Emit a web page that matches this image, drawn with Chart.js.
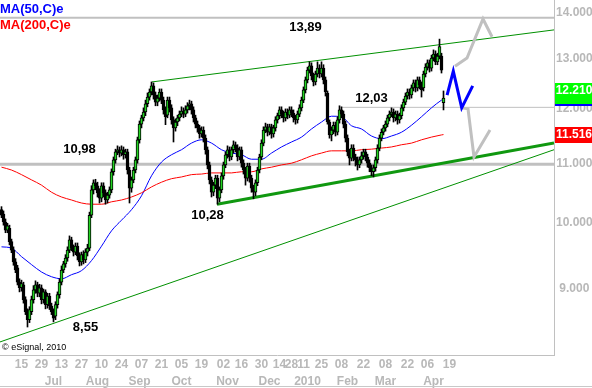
<!DOCTYPE html>
<html>
<head>
<meta charset="utf-8">
<script src="https://cdn.jsdelivr.net/npm/chart.js@4.4.1/dist/chart.umd.min.js"></script>
<style>
  html, body { margin: 0; padding: 0; background: #fff; }
</style>
</head>
<body>
<canvas id="chart" width="592" height="388"></canvas>
<script>
// daily candles, one per trading day (index 0 = first bar on the left)
const dayOpen = [
  10.21,10.14,10.01,9.88,9.91,9.70,9.57,9.39,9.30,9.09,
  9.01,9.05,8.84,8.67,8.56,8.67,8.84,8.98,9.05,8.93,
  9.01,8.84,8.95,8.77,8.89,8.75,8.67,8.61,8.77,8.91,
  9.09,9.27,9.36,9.45,9.57,9.73,9.60,9.54,9.63,9.48,
  9.39,9.50,9.42,9.54,9.60,10.12,10.54,10.66,10.61,10.49,
  10.40,10.61,10.49,10.37,10.45,10.54,10.85,11.06,11.20,11.24,
  11.18,11.24,11.15,11.20,10.88,10.57,10.71,10.88,11.06,11.42,
  11.71,11.83,11.94,12.10,12.23,12.33,12.45,12.27,12.13,12.21,
  12.33,12.17,11.98,11.88,12.17,12.02,11.79,11.64,11.75,11.83,
  11.90,11.96,11.90,11.98,12.06,12.10,11.98,11.83,11.71,11.64,
  11.53,11.60,11.45,11.24,10.97,10.71,10.50,10.62,10.74,10.40,
  10.54,10.78,10.97,11.15,11.24,11.11,11.24,11.33,11.27,11.11,
  11.24,11.00,10.88,10.74,10.95,10.74,10.57,10.50,10.66,10.88,
  11.11,11.36,11.60,11.66,11.56,11.66,11.53,11.64,11.79,11.87,
  11.98,11.90,11.83,11.94,11.88,11.98,11.92,11.83,11.79,11.90,
  12.02,12.17,12.37,12.57,12.77,12.86,12.65,12.53,12.69,12.81,
  12.69,12.81,12.57,12.31,11.75,11.51,11.60,11.69,11.56,11.79,
  11.98,11.90,11.71,11.45,11.20,11.09,11.27,11.11,11.06,10.97,
  11.06,11.13,11.20,11.11,11.00,10.92,10.85,10.92,11.06,11.27,
  11.45,11.56,11.64,11.71,11.83,11.90,11.94,11.83,11.90,11.79,
  11.87,12.02,12.13,12.25,12.33,12.27,12.41,12.51,12.41,12.57,
  12.47,12.41,12.69,12.83,12.92,12.81,13.02,13.10,12.94,13.06,
  13.06,12.12
];
const dayHigh = [
  10.26,10.19,10.06,9.99,9.96,9.74,9.62,9.44,9.34,9.14,
  9.12,9.09,8.88,8.71,8.74,8.89,9.04,9.11,9.09,9.06,
  9.05,8.99,8.98,8.93,8.93,8.79,8.71,8.81,8.95,9.14,
  9.33,9.40,9.50,9.62,9.79,9.77,9.65,9.68,9.68,9.53,
  9.54,9.56,9.59,9.66,10.17,10.61,10.71,10.72,10.67,10.56,
  10.66,10.66,10.54,10.50,10.59,10.90,11.11,11.25,11.31,11.29,
  11.31,11.29,11.25,11.25,10.93,10.76,10.93,11.11,11.47,11.77,
  11.88,12.02,12.17,12.31,12.39,12.53,12.51,12.33,12.27,12.39,
  12.39,12.23,12.04,12.23,12.23,12.08,11.85,11.81,11.88,11.96,
  12.04,12.02,12.06,12.12,12.17,12.15,12.04,11.88,11.77,11.69,
  11.66,11.66,11.51,11.29,11.02,10.76,10.67,10.79,10.79,10.59,
  10.83,11.02,11.20,11.31,11.29,11.29,11.40,11.38,11.33,11.29,
  11.29,11.06,10.93,11.00,11.00,10.79,10.62,10.71,10.93,11.16,
  11.42,11.66,11.73,11.71,11.71,11.71,11.69,11.85,11.92,12.04,
  12.04,11.96,12.00,12.00,12.04,12.04,11.98,11.88,11.96,12.08,
  12.23,12.43,12.63,12.83,12.94,12.92,12.71,12.75,12.94,12.88,
  12.94,12.88,12.63,12.35,11.79,11.66,11.75,11.75,11.85,12.06,
  12.04,11.96,11.77,11.51,11.25,11.33,11.33,11.16,11.11,11.11,
  11.20,11.25,11.25,11.16,11.06,10.97,10.97,11.11,11.33,11.51,
  11.62,11.69,11.77,11.88,11.96,12.02,12.00,11.96,11.96,11.92,
  12.08,12.19,12.31,12.39,12.39,12.47,12.57,12.57,12.63,12.63,
  12.53,12.75,12.90,12.98,12.98,13.08,13.19,13.17,13.12,13.42,
  13.12,12.35
];
const dayLow = [
  10.08,9.96,9.84,9.84,9.65,9.53,9.34,9.23,9.05,8.95,
  8.96,8.79,8.63,8.46,8.52,8.63,8.79,8.93,8.88,8.88,
  8.78,8.79,8.71,8.72,8.70,8.63,8.53,8.56,8.72,8.86,
  9.05,9.23,9.31,9.40,9.53,9.56,9.48,9.50,9.42,9.33,
  9.34,9.36,9.38,9.48,9.56,10.08,10.47,10.54,10.42,10.32,
  10.34,10.42,10.30,10.32,10.40,10.49,10.79,11.00,11.15,11.11,
  11.13,11.07,11.09,10.81,10.32,10.50,10.66,10.83,11.00,11.36,
  11.64,11.77,11.87,12.04,12.17,12.27,12.19,12.06,12.06,12.15,
  12.10,11.90,11.70,11.83,11.94,11.71,11.38,11.58,11.68,11.77,
  11.85,11.83,11.85,11.92,11.98,11.90,11.75,11.64,11.56,11.45,
  11.47,11.38,11.16,10.90,10.64,10.42,10.44,10.56,10.30,10.34,
  10.49,10.72,10.92,11.09,11.04,11.06,11.18,11.20,11.04,11.06,
  10.93,10.81,10.62,10.69,10.67,10.50,10.39,10.44,10.61,10.83,
  11.06,11.31,11.55,11.49,11.51,11.45,11.47,11.58,11.73,11.81,
  11.83,11.75,11.77,11.81,11.83,11.85,11.75,11.71,11.73,11.85,
  11.96,12.12,12.31,12.51,12.71,12.57,12.45,12.47,12.63,12.61,
  12.63,12.49,12.25,11.71,11.45,11.40,11.53,11.49,11.51,11.73,
  11.83,11.64,11.38,11.13,10.97,11.04,11.04,10.95,10.88,10.92,
  11.00,11.07,11.04,10.93,10.85,10.78,10.76,10.86,11.00,11.22,
  11.40,11.51,11.58,11.66,11.77,11.85,11.75,11.77,11.71,11.73,
  11.81,11.96,12.08,12.19,12.19,12.21,12.35,12.33,12.35,12.39,
  12.23,12.35,12.63,12.77,12.73,12.75,12.96,12.88,12.88,13.00,
  12.71,11.98
];
const dayClose = [
  10.12,10.01,9.88,9.95,9.70,9.57,9.39,9.27,9.09,9.01,
  9.07,8.84,8.67,8.56,8.70,8.84,8.98,9.05,8.93,9.01,
  8.84,8.95,8.77,8.89,8.75,8.67,8.58,8.77,8.91,9.09,
  9.27,9.36,9.45,9.57,9.73,9.60,9.54,9.63,9.48,9.39,
  9.50,9.42,9.54,9.60,10.12,10.54,10.66,10.61,10.49,10.40,
  10.61,10.49,10.37,10.45,10.54,10.85,11.06,11.20,11.24,11.18,
  11.24,11.15,11.20,10.88,10.57,10.71,10.88,11.06,11.42,11.71,
  11.83,11.94,12.10,12.23,12.33,12.45,12.27,12.13,12.21,12.33,
  12.17,11.98,11.85,12.17,12.02,11.79,11.64,11.75,11.83,11.90,
  11.96,11.90,11.98,12.06,12.10,11.98,11.83,11.71,11.64,11.53,
  11.60,11.45,11.24,10.97,10.71,10.50,10.62,10.74,10.40,10.54,
  10.78,10.97,11.15,11.24,11.11,11.24,11.33,11.27,11.11,11.24,
  11.00,10.88,10.74,10.95,10.74,10.57,10.50,10.66,10.88,11.11,
  11.36,11.60,11.66,11.56,11.66,11.53,11.64,11.79,11.87,11.98,
  11.90,11.83,11.94,11.88,11.98,11.92,11.83,11.79,11.90,12.02,
  12.17,12.37,12.57,12.77,12.86,12.65,12.53,12.69,12.81,12.69,
  12.81,12.57,12.33,11.75,11.51,11.60,11.69,11.56,11.79,11.98,
  11.90,11.71,11.45,11.20,11.09,11.27,11.11,11.06,10.97,11.06,
  11.13,11.20,11.11,11.00,10.92,10.85,10.92,11.06,11.27,11.45,
  11.56,11.64,11.71,11.83,11.90,11.94,11.83,11.90,11.79,11.87,
  12.02,12.13,12.25,12.33,12.27,12.41,12.51,12.41,12.57,12.47,
  12.37,12.69,12.83,12.92,12.81,13.02,13.10,12.94,13.06,13.26,
  12.77,12.21
];

// moving averages, read every 5th bar
const maDay = [0,5,10,15,20,25,30,35,40,45,50,55,60,65,70,75,80,85,90,95,
  100,105,110,115,120,125,130,135,140,145,150,155,160,165,170,175,180,185,190,195,
  200,205,210,215,220,221];
const ma50 = [
  9.62,9.60,9.47,9.35,9.24,9.17,9.14,9.20,9.26,9.41,
  9.63,9.87,10.04,10.21,10.44,10.78,11.02,11.15,11.24,11.36,
  11.42,11.36,11.24,11.18,11.15,11.07,11.07,11.18,11.29,11.38,
  11.47,11.62,11.75,11.86,11.85,11.68,11.62,11.49,11.44,11.49,
  11.56,11.69,11.85,12.02,12.17,12.19
];
const ma200 = [
  10.93,10.88,10.80,10.71,10.62,10.50,10.42,10.37,10.32,10.30,
  10.30,10.34,10.37,10.42,10.49,10.59,10.67,10.73,10.76,10.80,
  10.81,10.83,10.83,10.83,10.85,10.85,10.90,10.93,10.97,11.00,
  11.06,11.13,11.18,11.22,11.22,11.22,11.24,11.25,11.27,11.29,
  11.33,11.36,11.42,11.47,11.51,11.516
];

// axis ticks
const yTicks = [9, 10, 11, 12, 13, 14];
const dayTickIdx = [10,20,30,40,50,60,70,80,90,100,111,120,130,139,145,151,160,170,181,192,203,213,224];
const dayTickLabels = ['15','29','13','27','10','24','07','21','05','19','02','16','30','14','28','11','25','08','22','08','22','06','19'];
const monthTickIdx = [26, 48, 69, 90, 113, 134, 153, 173, 192, 216];
const monthLabels = ['Jul','Aug','Sep','Oct','Nov','Dec','2010','Feb','Mar','Apr'];

// drawn studies as [day, price]
const channelTop = [[75.25, 12.53], [276.25, 13.62]];
const supportLine = [[107.75, 10.30], [276.25, 11.36]];
const longSupport = [[-0.75, 8.26], [276.25, 11.24]];
const levelTop = [[-0.75, 13.89], [276.25, 13.89]];
const levelMid = [[170.25, 12.03], [276.25, 12.03]];
const levelLow = [[-0.75, 10.98], [276.25, 10.98]];
const pathBlue = [[222.8, 12.27], [225.9, 12.75], [230.1, 12.02], [235.6, 12.45]];
const pathGrayUp = [[226.75, 12.85], [232.75, 13.02], [240.75, 13.86], [245.25, 13.47]];
const pathGrayDown = [[230.25, 12.02], [233.25, 12.00], [236.25, 11.11], [244.25, 11.60]];

const noteText = ['13,89', '12,03', '10,98', '10,28', '8,55'];
const noteDay = [152, 185, 39, 103, 42];
const notePrice = [13.68, 12.21, 11.24, 10.11, 8.46];

const X_MIN = -0.75, X_MAX = 276.25;
const FONT = '"Liberation Sans", Arial, sans-serif';
const AXIS_GRAY = '#b8b8b8';

const pts = arr => arr.map(p => ({ x: p[0], y: p[1] }));
const drawn = (data, color, width, order) => ({
  type: 'line', data: pts(data), borderColor: color, borderWidth: width,
  pointRadius: 0, fill: false, order: order
});

const wicks = dayClose.map((c, i) => ({ x: i, y: [dayLow[i], dayHigh[i]] }));
const bodies = dayClose.map((c, i) => ({ x: i, y: [dayOpen[i], c] }));
const bodyColors = dayClose.map((c, i) => c >= dayOpen[i] ? '#22d422' : '#000000');

const overlay = {
  id: 'overlay',
  afterDraw(chart) {
    const c = chart.ctx;
    const xs = chart.scales.x, ys = chart.scales.y;
    const right = chart.chartArea.right;
    c.save();

    // price notes
    c.font = 'bold 13px ' + FONT;
    c.fillStyle = '#000';
    c.textAlign = 'center';
    c.textBaseline = 'middle';
    noteText.forEach((t, k) => {
      c.fillText(t, xs.getPixelForValue(noteDay[k]), ys.getPixelForValue(notePrice[k]));
    });

    // study legend
    c.textAlign = 'left';
    c.fillStyle = '#0000ff';
    c.fillText('MA(50,C)e', 0, 9);
    c.fillStyle = '#ff0000';
    c.fillText('MA(200,C)e', 0, 25);

    c.font = '9px ' + FONT;
    c.fillStyle = '#000';
    c.fillText('\u00a9 eSignal, 2010', 2, 348);

    // last value boxes on the price axis
    const lastClose = dayClose[dayClose.length - 1];
    const last50 = ma50[ma50.length - 1];
    const last200 = ma200[ma200.length - 1];
    const y50 = ys.getPixelForValue(last50);
    const yP = ys.getPixelForValue(lastClose);
    const y200 = ys.getPixelForValue(last200);
    c.fillStyle = '#0000ff';
    c.fillRect(right + 1, Math.round(y50) - 8, 38, 15);
    c.fillStyle = '#00ff00';
    c.fillRect(right + 1, Math.round(yP) - 15, 38, 21);
    c.fillStyle = '#ff0000';
    c.fillRect(right + 1, Math.round(y200) - 8, 38, 16);
    c.font = 'bold 12px ' + FONT;
    c.fillStyle = '#fff';
    c.textAlign = 'center';
    c.fillText(lastClose.toFixed(3), right + 20, Math.round(yP) - 7);
    c.fillText(last200.toFixed(3), right + 20, Math.round(y200));

    c.fillStyle = '#c8c8c8';
    c.fillRect(0, 386, chart.width, 1);
    c.restore();
  }
};

new Chart(document.getElementById('chart'), {
  type: 'bar',
  data: {
    datasets: [
      drawn(levelTop, '#c0c0c0', 2, 10),
      drawn(levelMid, '#c0c0c0', 1, 10),
      drawn(levelLow, '#c0c0c0', 3, 10),
      {
        type: 'line', data: maDay.map((d, k) => ({ x: d, y: ma200[k] })),
        borderColor: '#ff0000', borderWidth: 1, pointRadius: 0,
        cubicInterpolationMode: 'monotone', order: 8
      },
      {
        type: 'line', data: maDay.map((d, k) => ({ x: d, y: ma50[k] })),
        borderColor: '#0000ff', borderWidth: 1, pointRadius: 0,
        cubicInterpolationMode: 'monotone', order: 8
      },
      drawn(channelTop, '#009000', 1, 7),
      drawn(longSupport, '#009000', 1, 7),
      drawn(supportLine, '#109810', 3, 7),
      {
        data: wicks, backgroundColor: '#000', borderWidth: 0,
        barThickness: 1, grouped: false, order: 5
      },
      {
        data: bodies, backgroundColor: bodyColors, borderColor: '#000',
        borderWidth: 1, borderSkipped: false, barThickness: 3,
        grouped: false, order: 4
      },
      drawn(pathGrayUp, '#c0c0c0', 3, 2),
      drawn(pathGrayDown, '#c0c0c0', 3, 2),
      drawn(pathBlue, '#0000ff', 3, 1)
    ]
  },
  options: {
    responsive: false,
    animation: false,
    events: [],
    layout: { padding: 0 },
    plugins: {
      legend: { display: false },
      tooltip: { enabled: false }
    },
    scales: {
      x: {
        type: 'linear', position: 'bottom', weight: 0,
        min: X_MIN, max: X_MAX, offset: false,
        grid: { display: false, drawTicks: false },
        border: { display: true, color: '#c0c0c0' },
        ticks: {
          autoSkip: false, maxRotation: 0, padding: 2, color: AXIS_GRAY,
          font: { family: FONT, size: 12, weight: 'bold' },
          callback: (v, idx) => dayTickLabels[idx]
        },
        afterBuildTicks: s => { s.ticks = dayTickIdx.map(v => ({ value: v })); },
        afterFit: s => { s.height = 17; s.paddingLeft = 0; s.paddingRight = 0; }
      },
      x2: {
        type: 'linear', position: 'bottom', weight: 1,
        min: X_MIN, max: X_MAX, offset: false,
        grid: { display: false, drawTicks: false },
        border: { display: false },
        ticks: {
          autoSkip: false, maxRotation: 0, padding: 2, color: AXIS_GRAY,
          font: { family: FONT, size: 12, weight: 'bold' },
          callback: (v, idx) => monthLabels[idx]
        },
        afterBuildTicks: s => { s.ticks = monthTickIdx.map(v => ({ value: v })); },
        afterFit: s => { s.height = 16; s.paddingLeft = 0; s.paddingRight = 0; }
      },
      y: {
        type: 'logarithmic', position: 'right',
        min: 8.089, max: 14.288,
        grid: { display: false, drawTicks: false },
        border: { display: true, color: '#c0c0c0' },
        ticks: {
          crossAlign: 'center', padding: 2, color: AXIS_GRAY,
          font: { family: FONT, size: 12, weight: 'bold' },
          callback: v => Number(v).toFixed(3)
        },
        afterBuildTicks: s => { s.ticks = yTicks.map(v => ({ value: v })); },
        afterFit: s => { s.width = 38; s.paddingTop = 0; s.paddingBottom = 0; }
      }
    }
  },
  plugins: [overlay]
});
</script>
</body>
</html>
